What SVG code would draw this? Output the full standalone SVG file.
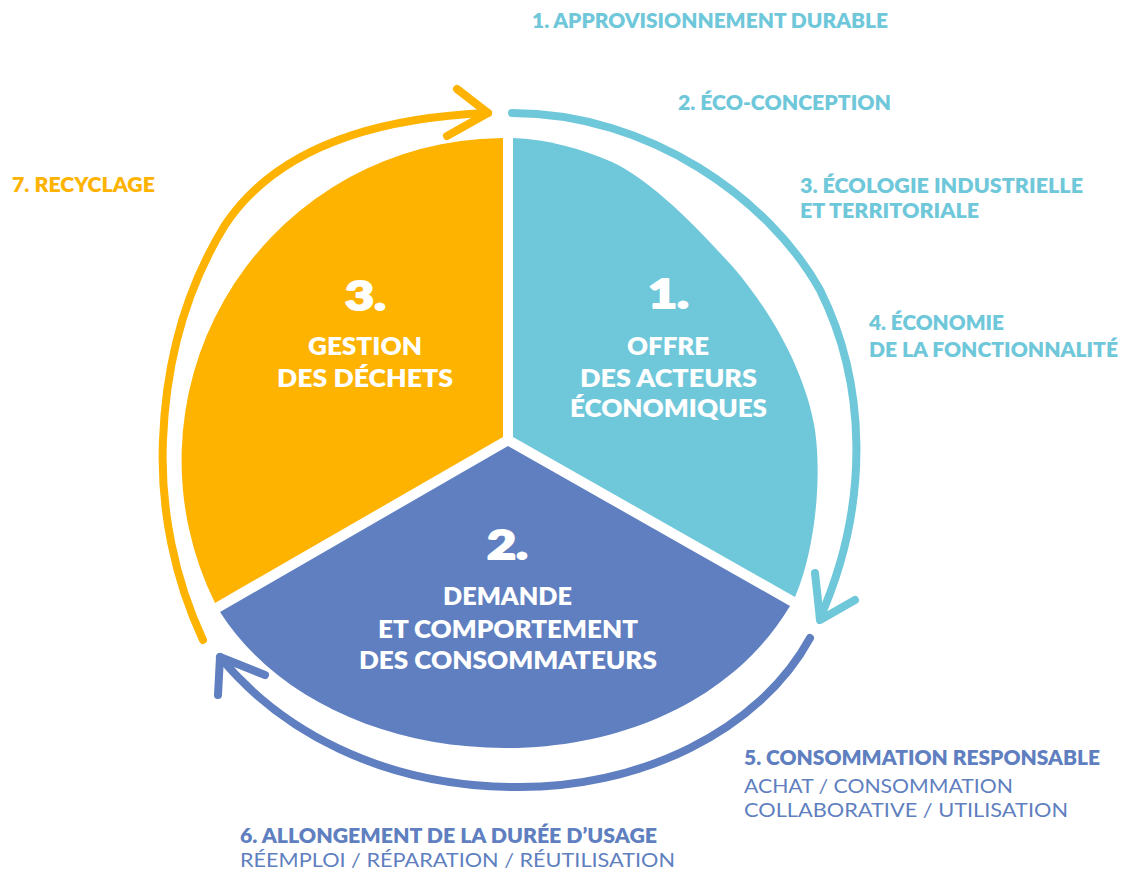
<svg xmlns="http://www.w3.org/2000/svg" width="1127" height="870" viewBox="0 0 1127 870">
<style>
.lbl{font-family:Lato,"Open Sans","Liberation Sans",sans-serif;font-size:20px;font-weight:800}
.sub{font-family:Lato,"Open Sans","Liberation Sans",sans-serif;font-size:20px;font-weight:400}
.sec{font-family:Lato,"Open Sans","Liberation Sans",sans-serif;font-size:25px;font-weight:800;fill:#ffffff}
.num{font-family:Lato,"Open Sans","Liberation Sans",sans-serif;font-size:40px;font-weight:900;fill:#ffffff;stroke:#ffffff;stroke-width:2;stroke-linejoin:round}
.cy{fill:#6fc7da}.bl{fill:#5f7fc0}.or{fill:#fdb300}
.arc{fill:none;stroke-width:8;stroke-linecap:round;stroke-linejoin:round}
</style>
<rect width="1127" height="870" fill="#ffffff"/>
<g id="sector-1">
<path class="cy" d="M513,138 C545,139 580,148 612,162 C650,180 690,220 733,267 C770,310 805,370 815,430 C822,480 815,550 795,597 L513,437 Z"/>
<text class="num" x="648" y="308" textLength="41" lengthAdjust="spacingAndGlyphs">1.</text>
<text class="sec" x="627" y="355" textLength="82" lengthAdjust="spacingAndGlyphs">OFFRE</text>
<text class="sec" x="580" y="387" textLength="177" lengthAdjust="spacingAndGlyphs">DES ACTEURS</text>
<text class="sec" x="570" y="417" textLength="197" lengthAdjust="spacingAndGlyphs">ÉCONOMIQUES</text>
</g>
<g id="sector-2">
<path class="bl" d="M508,446 L790,606 C735,698 625,748 505,748 C385,748 275,698 220,612 Z"/>
<text class="num" x="487" y="559" textLength="41" lengthAdjust="spacingAndGlyphs">2.</text>
<text class="sec" x="443" y="605" textLength="129" lengthAdjust="spacingAndGlyphs">DEMANDE</text>
<text class="sec" x="378" y="638" textLength="260" lengthAdjust="spacingAndGlyphs">ET COMPORTEMENT</text>
<text class="sec" x="359" y="669" textLength="298" lengthAdjust="spacingAndGlyphs">DES CONSOMMATEURS</text>
</g>
<g id="sector-3">
<path class="or" d="M503,138 L503,437 L215,603 A322,322 0 0 1 480,139 Z"/>
<text class="num" x="345" y="310" textLength="41" lengthAdjust="spacingAndGlyphs">3.</text>
<text class="sec" x="308" y="355" textLength="114" lengthAdjust="spacingAndGlyphs">GESTION</text>
<text class="sec" x="277" y="387" textLength="176" lengthAdjust="spacingAndGlyphs">DES DÉCHETS</text>
</g>
<g id="connectors">
<path class="arc" stroke="#6fc7da" d="M512,113 C650,113 770,200 820,290 C865,380 872,500 820,618"/>
<path class="arc" stroke="#6fc7da" d="M815,573 Q818,600 820,620 L855,600"/>
<path class="arc" stroke="#5f7fc0" d="M810,638 C760,730 640,790 510,787 C380,785 280,730 220,657"/>
<path class="arc" stroke="#5f7fc0" d="M218,695 L220,657 L265,675"/>
<path class="arc" stroke="#fdb300" d="M203,640 C175,580 160,510 163,440 C166,360 185,290 225,225 C275,150 370,118 488,113"/>
<path class="arc" stroke="#fdb300" d="M457,89 L488,113 L447,136"/>
</g>
<g id="labels">
<text class="lbl cy" x="532" y="28" textLength="356" lengthAdjust="spacingAndGlyphs">1. APPROVISIONNEMENT DURABLE</text>
<text class="lbl cy" x="678" y="110" textLength="213" lengthAdjust="spacingAndGlyphs">2. ÉCO-CONCEPTION</text>
<text class="lbl cy" x="800" y="193" textLength="283" lengthAdjust="spacingAndGlyphs">3. ÉCOLOGIE INDUSTRIELLE</text>
<text class="lbl cy" x="800" y="218" textLength="179" lengthAdjust="spacingAndGlyphs">ET TERRITORIALE</text>
<text class="lbl cy" x="869" y="330" textLength="135" lengthAdjust="spacingAndGlyphs">4. ÉCONOMIE</text>
<text class="lbl cy" x="869" y="357" textLength="249" lengthAdjust="spacingAndGlyphs">DE LA FONCTIONNALITÉ</text>
<text class="lbl bl" x="744" y="765" textLength="356" lengthAdjust="spacingAndGlyphs">5. CONSOMMATION RESPONSABLE</text>
<text class="sub bl" x="744" y="793" textLength="269" lengthAdjust="spacingAndGlyphs">ACHAT / CONSOMMATION</text>
<text class="sub bl" x="744" y="817" textLength="324" lengthAdjust="spacingAndGlyphs">COLLABORATIVE / UTILISATION</text>
<text class="lbl bl" x="240" y="843" textLength="417" lengthAdjust="spacingAndGlyphs">6. ALLONGEMENT DE LA DURÉE D’USAGE</text>
<text class="sub bl" x="240" y="867" textLength="435" lengthAdjust="spacingAndGlyphs">RÉEMPLOI / RÉPARATION / RÉUTILISATION</text>
<text class="lbl or" x="12" y="192" textLength="143" lengthAdjust="spacingAndGlyphs">7. RECYCLAGE</text>
</g>
</svg>
